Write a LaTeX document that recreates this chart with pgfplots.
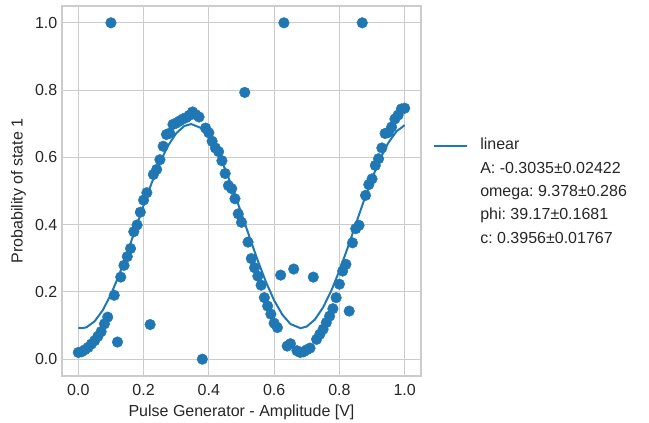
\documentclass[border=0pt]{standalone}
\usepackage{fontspec}
\setmainfont{Liberation Sans}
\usepackage{pgfplots}
\pgfplotsset{compat=1.18}
\definecolor{mplblue}{HTML}{1F77B4}
\definecolor{gridgrey}{HTML}{CCCCCC}
\definecolor{textgrey}{HTML}{262626}
\frenchspacing

\begin{document}
\begin{tikzpicture}
% page size of the reference, measured from the lower left corner of the frame
\useasboundingbox (-46.5pt,-34.5pt) rectangle (440.25pt,282pt);
\begin{axis}[
  scale only axis, width=269.25pt, height=277.5pt,
  xmin=-0.05, xmax=1.05, ymin=-0.05, ymax=1.05,
  xtick={0,0.2,0.4,0.6,0.8,1}, ytick={0,0.2,0.4,0.6,0.8,1},
  /pgf/number format/fixed, /pgf/number format/fixed zerofill,
  /pgf/number format/precision=1, /pgf/number format/assume math mode=true,
  major tick length=0pt,
  grid=major, grid style={gridgrey, line width=0.75pt},
  axis line style={gridgrey, line width=1pt},
  font=\fontsize{12}{14.4}\selectfont,
  tick label style={textgrey},
  label style={textgrey},
  xticklabel shift=3pt,
  xlabel={Pulse Generator - Amplitude [V]},
  ylabel={Probability of state 1},
  legend cell align=left,
  legend image code/.code={\draw[#1] (0pt,0pt) -- (24.75pt,0pt);},
  legend style={at={(1,0.5)}, anchor=west, xshift=6pt, yshift=-1.2pt, draw=none, fill=none,
                text=textgrey, column sep=9pt, row sep=5.5pt,
                nodes={inner sep=0pt, text height=9pt, text depth=3pt}},
]
% fitted curve
\addplot[mplblue, line width=1.5pt] table {
x y
0.000 0.0936
0.011 0.0921
0.025 0.0948
0.050 0.1126
0.075 0.1457
0.100 0.1926
0.125 0.2505
0.150 0.3164
0.175 0.3866
0.200 0.4574
0.225 0.5247
0.250 0.5850
0.275 0.6349
0.300 0.6717
0.325 0.6934
0.346 0.6991
0.375 0.6877
0.400 0.6605
0.425 0.6189
0.450 0.5650
0.475 0.5019
0.500 0.4329
0.525 0.3619
0.550 0.2928
0.575 0.2293
0.600 0.1749
0.625 0.1325
0.650 0.1045
0.681 0.0921
0.700 0.0971
0.725 0.1180
0.750 0.1540
0.775 0.2034
0.800 0.2632
0.825 0.3303
0.850 0.4009
0.875 0.4712
0.900 0.5375
0.925 0.5959
0.950 0.6434
0.975 0.6773
1.000 0.6958
};
\addlegendentry{linear}
\addlegendimage{empty legend}\addlegendentry{A: -0.3035±0.02422}
\addlegendimage{empty legend}\addlegendentry{omega: 9.378±0.286}
\addlegendimage{empty legend}\addlegendentry{phi: 39.17±0.1681}
\addlegendimage{empty legend}\addlegendentry{c: 0.3956±0.01767}
% measured points
\addplot[only marks, mark=*, mark size=4pt, mark options={draw=mplblue, fill=mplblue, line width=0.3pt}, forget plot] table {
x y
0.00 0.020
0.01 0.022
0.02 0.028
0.03 0.035
0.04 0.045
0.05 0.055
0.06 0.068
0.07 0.082
0.08 0.105
0.09 0.125
0.10 1.000
0.11 0.190
0.12 0.051
0.13 0.244
0.14 0.279
0.15 0.305
0.16 0.329
0.17 0.379
0.18 0.399
0.19 0.437
0.20 0.473
0.21 0.495
0.22 0.103
0.23 0.549
0.24 0.564
0.25 0.593
0.26 0.633
0.27 0.668
0.28 0.672
0.29 0.698
0.30 0.702
0.31 0.708
0.32 0.714
0.33 0.718
0.34 0.725
0.35 0.735
0.36 0.727
0.37 0.720
0.38 0.000
0.39 0.687
0.40 0.673
0.41 0.648
0.42 0.628
0.43 0.617
0.44 0.590
0.45 0.552
0.46 0.516
0.47 0.507
0.48 0.477
0.49 0.432
0.50 0.407
0.51 0.793
0.52 0.348
0.53 0.299
0.54 0.272
0.55 0.247
0.56 0.220
0.57 0.183
0.58 0.158
0.59 0.134
0.60 0.107
0.61 0.094
0.62 0.250
0.63 1.000
0.64 0.039
0.65 0.046
0.66 0.268
0.67 0.025
0.68 0.020
0.69 0.022
0.70 0.028
0.71 0.033
0.72 0.244
0.73 0.059
0.74 0.074
0.75 0.089
0.76 0.109
0.77 0.128
0.78 0.150
0.79 0.183
0.80 0.223
0.81 0.262
0.82 0.282
0.83 0.143
0.84 0.346
0.85 0.388
0.86 0.398
0.87 1.000
0.88 0.487
0.89 0.519
0.90 0.536
0.91 0.576
0.92 0.596
0.93 0.628
0.94 0.671
0.95 0.674
0.96 0.690
0.97 0.714
0.98 0.726
0.99 0.744
1.00 0.746
};
\end{axis}
\end{tikzpicture}
\end{document}
